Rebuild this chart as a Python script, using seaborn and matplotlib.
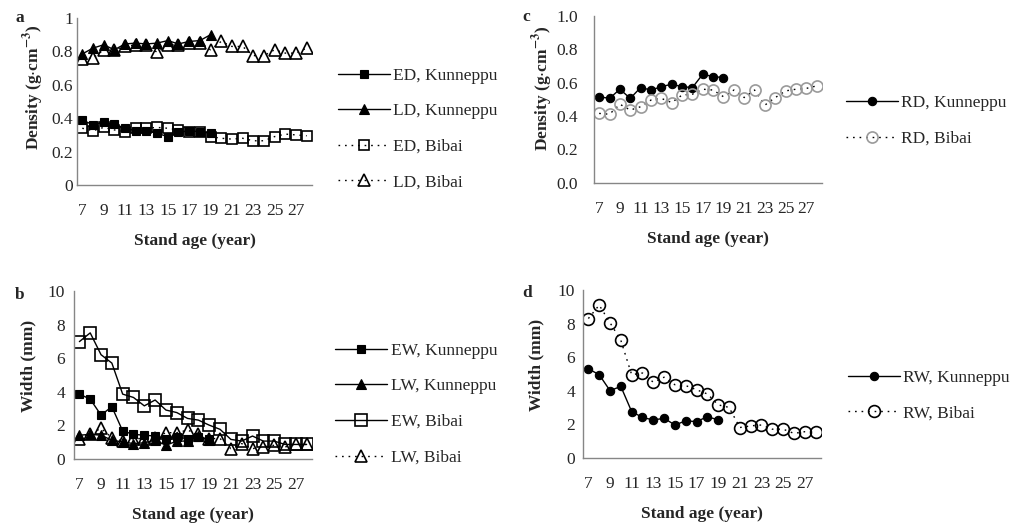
import numpy as np
import matplotlib
matplotlib.use("Agg")
import matplotlib.pyplot as plt
import seaborn as sns
from matplotlib.ticker import FixedLocator, NullFormatter

# Stand ages
age_kun = list(range(7, 20))
age_bib = list(range(7, 29))

# Panel a: density (g/cm3)
ed_kun = [0.39, 0.36, 0.375, 0.365, 0.34, 0.325, 0.325, 0.31, 0.29, 0.315, 0.325, 0.32, 0.31]
ld_kun = [0.785, 0.82, 0.84, 0.81, 0.845, 0.85, 0.845, 0.85, 0.865, 0.845, 0.86, 0.865, 0.90]
ed_bib = [0.34, 0.325, 0.345, 0.33, 0.32, 0.34, 0.34, 0.345, 0.34, 0.33, 0.32, 0.32, 0.29,
          0.28, 0.275, 0.28, 0.265, 0.265, 0.29, 0.305, 0.30, 0.295]
ld_bib = [0.755, 0.76, 0.81, 0.81, 0.83, 0.84, 0.84, 0.795, 0.84, 0.84, 0.85, 0.85, 0.81,
          0.86, 0.83, 0.83, 0.775, 0.775, 0.81, 0.79, 0.79, 0.82]

# Panel b: width (mm)
ew_kun = [3.85, 3.55, 2.6, 3.1, 1.65, 1.45, 1.4, 1.35, 1.2, 1.3, 1.2, 1.3, 1.15]
lw_kun = [1.4, 1.45, 1.4, 1.1, 1.0, 0.9, 0.95, 1.1, 0.8, 1.05, 1.05, 1.35, 1.1]
ew_bib = [6.98, 7.5, 6.2, 5.7, 3.85, 3.65, 3.15, 3.5, 2.9, 2.75, 2.4, 2.3, 2.0,
          1.75, 1.15, 1.05, 1.35, 1.05, 1.05, 0.85, 0.85, 0.85]
lw_bib = [1.2, 1.5, 1.8, 1.25, 1.05, 1.2, 1.2, 1.25, 1.55, 1.55, 1.7, 1.45, 1.2,
          1.2, 0.6, 0.9, 0.6, 0.7, 0.8, 0.7, 0.85, 0.85]

# Panel c: ring density
rd_kun = [0.515, 0.505, 0.56, 0.505, 0.57, 0.555, 0.575, 0.59, 0.575, 0.57, 0.65, 0.635, 0.63]
rd_bib = [0.415, 0.41, 0.47, 0.435, 0.455, 0.495, 0.505, 0.48, 0.525, 0.53, 0.56, 0.555, 0.515,
          0.555, 0.51, 0.555, 0.465, 0.51, 0.55, 0.56, 0.565, 0.58]

# Panel d: ring width
rw_kun = [5.3, 4.95, 4.0, 4.25, 2.75, 2.4, 2.25, 2.35, 1.95, 2.2, 2.15, 2.45, 2.25]
rw_bib = [8.3, 9.1, 8.05, 7.0, 4.95, 5.05, 4.5, 4.8, 4.35, 4.3, 4.05, 3.8, 3.15,
          3.0, 1.8, 1.9, 1.95, 1.7, 1.7, 1.45, 1.55, 1.55]

sns.set_style("white")
plt.rcParams["font.family"] = ["Liberation Serif", "DejaVu Serif"]
plt.rcParams["mathtext.fontset"] = "stix"
FS = 12.5
plt.rcParams["font.size"] = FS

fig = plt.figure(figsize=(10.19, 5.25), dpi=100)
ax_a = fig.add_axes([0.0755, 0.6476, 0.2307, 0.318])
ax_b = fig.add_axes([0.0726, 0.1263, 0.2336, 0.3195])
ax_c = fig.add_axes([0.5829, 0.652, 0.2237, 0.318])
ax_d = fig.add_axes([0.5721, 0.1282, 0.2336, 0.3194])

dotted = (0, (1.2, 3.5))
axis_grey = "#868686"


def draw(ax, x, y, label, marker, ms, filled, ls, edge="black"):
    sns.lineplot(x=x, y=y, ax=ax, label=label, color="black", linestyle=ls, linewidth=1,
                 marker=marker, markersize=ms,
                 markerfacecolor=edge if filled else "none",
                 markeredgecolor=edge, markeredgewidth=1.2 if not filled else 0.8)


draw(ax_a, age_kun, ed_kun, "ED, Kunneppu", "s", 6, True, "-")
draw(ax_a, age_kun, ld_kun, "LD, Kunneppu", "^", 7.5, True, "-")
draw(ax_a, age_bib, ed_bib, "ED, Bibai", "s", 7.5, False, dotted)
draw(ax_a, age_bib, ld_bib, "LD, Bibai", "^", 8, False, dotted)

draw(ax_b, age_kun, ew_kun, "EW, Kunneppu", "s", 6, True, "-")
draw(ax_b, age_kun, lw_kun, "LW, Kunneppu", "^", 7.5, True, "-")
draw(ax_b, age_bib, ew_bib, "EW, Bibai", "s", 8, False, "-")
draw(ax_b, age_bib, lw_bib, "LW, Bibai", "^", 8, False, dotted)

draw(ax_c, age_kun, rd_kun, "RD, Kunneppu", "o", 6, True, "-")
draw(ax_c, age_bib, rd_bib, "RD, Bibai", "o", 8, False, dotted, edge="#9a9a9a")

draw(ax_d, age_kun, rw_kun, "RW, Kunneppu", "o", 6, True, "-")
draw(ax_d, age_bib, rw_bib, "RW, Bibai", "o", 8.5, False, dotted)

bold = {"fontweight": "bold", "fontsize": FS}
density_label = "Density (g$\\cdot$cm$^{\\mathbf{-3}}$)"
# (axes, ylabel, ymax, ystep, tick format, y tick length, y tick pad, ylabel coords)
panels = [
    (ax_a, density_label, 1.0, 0.2, "{:g}", 2.2, 0.8, (-0.132, 0.587)),
    (ax_b, "Width (mm)", 10, 2, "{:g}", 2.2, 4.3, (-0.156, 0.553)),
    (ax_c, density_label, 1.0, 0.2, "{:.1f}", 4.3, 7.2, (-0.171, 0.567)),
    (ax_d, "Width (mm)", 10, 2, "{:g}", 2.2, 3.6, (-0.16, 0.553)),
]
for ax, ylab, ymax, ystep, fmt, tlen, tpad, lab_xy in panels:
    ax.set_xlim(6.5, 28.5)
    ax.set_ylim(0, ymax)
    yt = np.arange(0, ymax + ystep / 2, ystep)
    ax.set_yticks(yt)
    ax.set_yticklabels([fmt.format(v) for v in yt])
    ax.set_xticks(list(range(7, 28, 2)))
    ax.set_xticklabels([str(v) for v in range(7, 28, 2)])
    ax.xaxis.set_minor_locator(FixedLocator(np.arange(6.5, 28.6, 1)))
    ax.xaxis.set_minor_formatter(NullFormatter())
    ax.tick_params(axis="x", which="major", length=0, pad=13, labelsize=FS)
    ax.tick_params(axis="x", which="minor", length=5, color=axis_grey, direction="out")
    ax.tick_params(axis="y", length=tlen, color=axis_grey, direction="out", pad=tpad, labelsize=FS)
    for s in ["top", "right"]:
        ax.spines[s].set_visible(False)
    for s in ["left", "bottom"]:
        ax.spines[s].set_color(axis_grey)
        ax.spines[s].set_linewidth(1)
    ax.set_xlabel("Stand age (year)", labelpad=10, **bold)
    ax.set_ylabel(ylab, **bold)
    ax.yaxis.set_label_coords(*lab_xy)

for ax, xa, ya in [(ax_a, 1.11, 0.335), (ax_b, 1.097, 0.325), (ax_c, 1.105, 0.37), (ax_d, 1.113, 0.37)]:
    ax.legend(loc="center left", bbox_to_anchor=(xa, ya), frameon=False, handlelength=3.0,
              handletextpad=0.2, labelspacing=1.12, fontsize=FS, borderaxespad=0, borderpad=0)

fig.text(0.015, 0.958, "a", **bold)
fig.text(0.015, 0.43, "b", **bold)
fig.text(0.513, 0.96, "c", **bold)
fig.text(0.513, 0.434, "d", **bold)

fig.savefig("out.png", dpi=100)
